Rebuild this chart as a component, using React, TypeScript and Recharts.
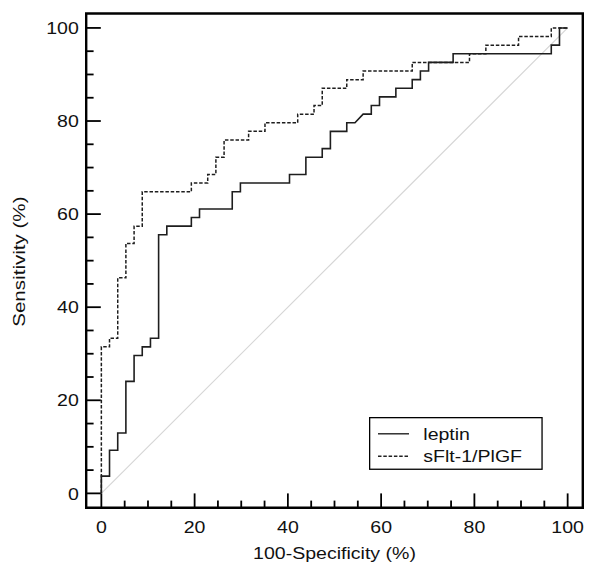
import React from 'react';
import { LineChart, Line, XAxis, YAxis, ReferenceLine, ReferenceArea, Legend, Label } from 'recharts';

// ROC coordinates (100-Specificity %, Sensitivity %)
const leptinFpr = [0, 0, 1.75, 1.75, 3.51, 3.51, 5.26, 5.26, 7.02, 7.02, 8.77, 8.77, 10.53, 10.53, 12.28, 12.28, 14.04, 14.04, 19.3, 19.3, 21.05, 21.05, 28.07, 28.07, 29.82, 29.82, 40.35, 40.35, 43.86, 43.86, 47.37, 47.37, 49.12, 49.12, 52.63, 52.63, 54.39, 56.14, 57.89, 57.89, 59.65, 59.65, 63.16, 63.16, 66.67, 66.67, 68.42, 68.42, 70.18, 70.18, 75.44, 75.44, 96.49, 96.49, 98.25, 98.25, 100];
const leptinTpr = [0, 3.7, 3.7, 9.26, 9.26, 12.96, 12.96, 24.07, 24.07, 29.63, 29.63, 31.48, 31.48, 33.33, 33.33, 55.56, 55.56, 57.41, 57.41, 59.26, 59.26, 61.11, 61.11, 64.81, 64.81, 66.67, 66.67, 68.52, 68.52, 72.22, 72.22, 74.07, 74.07, 77.78, 77.78, 79.63, 79.63, 81.48, 81.48, 83.33, 83.33, 85.19, 85.19, 87.04, 87.04, 88.89, 88.89, 90.74, 90.74, 92.59, 92.59, 94.44, 94.44, 96.3, 96.3, 100, 100];

const ratioFpr = [0, 0, 1.75, 1.75, 3.51, 3.51, 5.26, 5.26, 7.02, 7.02, 8.77, 8.77, 19.3, 19.3, 22.81, 22.81, 24.56, 24.56, 26.32, 26.32, 31.58, 31.58, 35.09, 35.09, 42.11, 42.11, 45.61, 45.61, 47.37, 47.37, 52.63, 52.63, 56.14, 56.14, 66.67, 66.67, 78.95, 78.95, 82.46, 82.46, 89.47, 89.47, 96.49, 96.49, 100];
const ratioTpr = [0, 31.48, 31.48, 33.33, 33.33, 46.3, 46.3, 53.7, 53.7, 57.41, 57.41, 64.81, 64.81, 66.67, 66.67, 68.52, 68.52, 72.22, 72.22, 75.93, 75.93, 77.78, 77.78, 79.63, 79.63, 81.48, 81.48, 83.33, 83.33, 87.04, 87.04, 88.89, 88.89, 90.74, 90.74, 92.59, 92.59, 94.44, 94.44, 96.3, 96.3, 98.15, 98.15, 100, 100];

const seriesNames = ['leptin', 'sFlt-1/PlGF'];
const seriesDash = ['', '3.5 1.8'];
const axisTicks = [0, 5, 10, 15, 20, 25, 30, 35, 40, 45, 50, 55, 60, 65, 70, 75, 80, 85, 90, 95, 100];
const majorStep = 20;
const xTitle = '100-Specificity (%)';
const yTitle = 'Sensitivity (%)';

const xDomain: [number, number] = [-3.25, 103.25];
const yDomain: [number, number] = [-3.1, 103.1];

const toPoints = (xs: number[], ys: number[]) => xs.map((x, i) => ({ x, y: ys[i] }));
const leptinData = toPoints(leptinFpr, leptinTpr);
const ratioData = toPoints(ratioFpr, ratioTpr);

const FONT = "'Liberation Sans', Arial, Helvetica, sans-serif";
const FS = 17.3;
const STRETCH = 1.13;
const INK = '#111';

function SText(props: { x: number; y: number; anchor?: string; rotate?: number; stretch?: number; children: any }) {
  const { x, y, anchor = 'start', rotate, stretch = STRETCH, children } = props;
  const t = `translate(${x} ${y})${rotate ? ` rotate(${rotate})` : ''} scale(${stretch} 1)`;
  return (
    <text transform={t} x={0} y={0} textAnchor={anchor as any} fontFamily={FONT} fontSize={FS} fill={INK}>
      {children}
    </text>
  );
}

const XTick = (props: any) => {
  const { x, y, payload } = props;
  const v = payload.value;
  const major = v % majorStep === 0;
  return (
    <g>
      <line x1={x} x2={x} y1={y} y2={y - (major ? 14.4 : 7.2)} stroke="#000" strokeWidth={1.8} />
      {major && <SText x={x} y={y + 24.7} anchor="middle">{String(v)}</SText>}
    </g>
  );
};

const YTick = (props: any) => {
  const { x, y, payload } = props;
  const v = payload.value;
  const major = v % majorStep === 0;
  return (
    <g>
      <line x1={x} x2={x + (major ? 14.6 : 7.4)} y1={y} y2={y} stroke="#000" strokeWidth={1.8} />
      {major && <SText x={x - 7.4} y={y + 6.2} anchor="end">{String(v)}</SText>}
    </g>
  );
};

const XTitle = (props: any) => {
  const vb = props.viewBox || { x: 0, y: 0, width: 0, height: 0 };
  return <SText x={vb.x + vb.width / 2} y={vb.y + 51.3} anchor="middle">{xTitle}</SText>;
};

const YTitle = (props: any) => {
  const vb = props.viewBox || { x: 0, y: 0, width: 0, height: 0 };
  return <SText x={vb.x + 25} y={vb.y + vb.height / 2 + 1} anchor="middle" rotate={-90} stretch={1.19}>{yTitle}</SText>;
};

const renderLegend = () => (
  <svg width={174} height={53} style={{ display: 'block' }}>
    <rect x={0.65} y={0.65} width={172.4} height={51.6} fill="#fff" stroke="#000" strokeWidth={1.3} />
    {seriesNames.map((n, i) => (
      <g key={n}>
        <line
          x1={9}
          x2={40}
          y1={16.8 + i * 22.4}
          y2={16.8 + i * 22.4}
          stroke="#222"
          strokeWidth={1.4}
          strokeDasharray={seriesDash[i] || undefined}
        />
        <SText x={54.3} y={22.8 + i * 21.7}>{n}</SText>
      </g>
    ))}
  </svg>
);

export default function App() {
  return (
    <div style={{ position: 'absolute', left: 0, top: 0, width: 600, height: 572, background: '#fff' }}>
      <LineChart width={600} height={572} margin={{ top: 13.5, right: 17.2, bottom: 0, left: 0 }}>
        <XAxis
          dataKey="x"
          type="number"
          domain={xDomain}
          allowDataOverflow
          ticks={axisTicks}
          interval={0}
          tick={<XTick />}
          tickLine={false}
          axisLine={false}
          tickSize={0}
          tickMargin={0}
          height={64.2}
        >
          <Label content={<XTitle />} />
        </XAxis>
        <YAxis
          type="number"
          domain={yDomain}
          allowDataOverflow
          ticks={axisTicks}
          interval={0}
          tick={<YTick />}
          tickLine={false}
          axisLine={false}
          tickSize={0}
          tickMargin={0}
          width={86.2}
        >
          <Label content={<YTitle />} />
        </YAxis>
        <ReferenceLine
          segment={[{ x: 0, y: 0 }, { x: 100, y: 100 }]}
          stroke="#d6d6d6"
          strokeWidth={1.2}
          ifOverflow="visible"
        />
        <Line
          data={leptinData}
          dataKey="y"
          name={seriesNames[0]}
          type="linear"
          stroke="#1e1e1e"
          strokeWidth={1.6}
          dot={false}
          activeDot={false}
          isAnimationActive={false}
        />
        <Line
          data={ratioData}
          dataKey="y"
          name={seriesNames[1]}
          type="linear"
          stroke="#1e1e1e"
          strokeWidth={1.5}
          strokeDasharray={seriesDash[1]}
          dot={false}
          activeDot={false}
          isAnimationActive={false}
        />
        <ReferenceArea
          x1={xDomain[0]}
          x2={xDomain[1]}
          y1={yDomain[0]}
          y2={yDomain[1]}
          fill="none"
          fillOpacity={0}
          stroke="#000"
          strokeWidth={2.4}
          ifOverflow="visible"
        />
        <Legend
          layout="vertical"
          align="center"
          verticalAlign="middle"
          content={renderLegend}
          wrapperStyle={{ position: 'absolute', left: 369, top: 416.5, width: 174, height: 53 }}
        />
      </LineChart>
    </div>
  );
}
